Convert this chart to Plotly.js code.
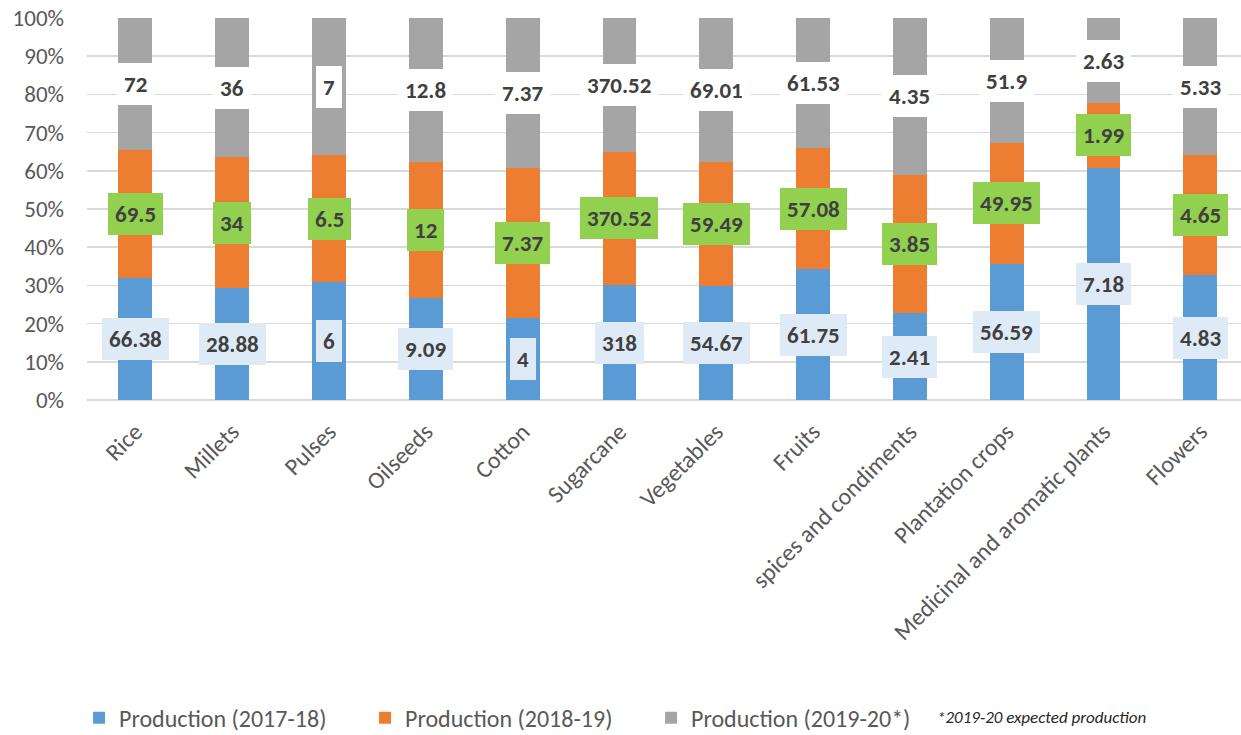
<!DOCTYPE html>
<html>
<head>
<meta charset="utf-8">
<script src="https://cdn.plot.ly/plotly-3.0.1.min.js"></script>
<style>html,body{margin:0;padding:0;background:#fff;}#chart{width:1241px;height:735px;}</style>
</head>
<body>
<div id="chart"></div>
<script>
const categories = ["Rice","Millets","Pulses","Oilseeds","Cotton","Sugarcane","Vegetables","Fruits","spices and condiments","Plantation crops","Medicinal and aromatic plants","Flowers"];
const prod2017 = [66.38, 28.88, 6, 9.09, 4, 318, 54.67, 61.75, 2.41, 56.59, 7.18, 4.83];
const prod2018 = [69.5, 34, 6.5, 12, 7.37, 370.52, 59.49, 57.08, 3.85, 49.95, 1.99, 4.65];
const prod2019 = [72, 36, 7, 12.8, 7.37, 370.52, 69.01, 61.53, 4.35, 51.9, 2.63, 5.33];
const seriesNames = ["Production (2017-18)", "Production (2018-19)", "Production (2019-20*)"];
const footnote = "*2019-20 expected production";

const FONT = "Carlito, Lato, 'Liberation Sans', sans-serif";
const colors = ["#5b9bd5", "#ed7d31", "#a5a5a5"];
const labelBg = ["#deebf7", "#92d050", "#ffffff"];
const series = [prod2017, prod2018, prod2019];

const traces = series.map((vals, i) => ({
  type: "bar",
  name: seriesNames[i],
  x: categories,
  y: vals,
  marker: {color: colors[i]},
  width: 0.35,
  hoverinfo: "skip"
}));

const annotations = [];
categories.forEach((c, j) => {
  const total = prod2017[j] + prod2018[j] + prod2019[j];
  let cum = 0;
  series.forEach((vals, i) => {
    const pct = vals[j] / total * 100;
    const mid = cum + pct / 2;
    cum += pct;
    annotations.push({
      x: c, y: mid, xref: "x", yref: "y",
      text: String(vals[j]),
      showarrow: false,
      font: {family: FONT, size: 23, color: "#404040", weight: "bold"},
      bgcolor: labelBg[i],
      borderpad: 7,
      borderwidth: 0
    });
  });
});

annotations.push({
  xref: "paper", yref: "paper", x: 0.735, y: -0.83, xanchor: "left", yanchor: "middle",
  text: "<i>" + footnote + "</i>", showarrow: false,
  font: {family: FONT, size: 17, color: "#262626"}
});

const layout = {
  width: 1241, height: 735,
  margin: {l: 87, r: 0, t: 18, b: 335},
  barmode: "stack",
  barnorm: "percent",
  paper_bgcolor: "#fff",
  plot_bgcolor: "#fff",
  font: {family: FONT, color: "#595959"},
  xaxis: {
    range: [-0.5, 11.42],
    tickangle: -45,
    tickfont: {family: FONT, size: 24, color: "#595959"},
    showgrid: false, zeroline: false,
    showline: false,
    ticks: "", ticklabelstandoff: 12
  },
  yaxis: {
    range: [0, 100],
    dtick: 10,
    ticksuffix: "%",
    tickfont: {family: FONT, size: 23, color: "#595959"},
    gridcolor: "#d9d9d9", gridwidth: 1.5,
    zeroline: true, zerolinecolor: "#d9d9d9", zerolinewidth: 1.5,
    ticks: "", ticklabelstandoff: 22
  },
  showlegend: true,
  legend: {
    orientation: "h",
    xref: "container", yref: "container",
    x: 0.0637, y: 0.023, xanchor: "left", yanchor: "middle",
    font: {family: FONT, size: 24, color: "#595959"},
    traceorder: "normal",
    entrywidth: 241, entrywidthmode: "pixels",
    itemwidth: 30
  },
  annotations: annotations
};

Plotly.newPlot("chart", traces, layout, {displayModeBar: false, staticPlot: true});
</script>
</body>
</html>
